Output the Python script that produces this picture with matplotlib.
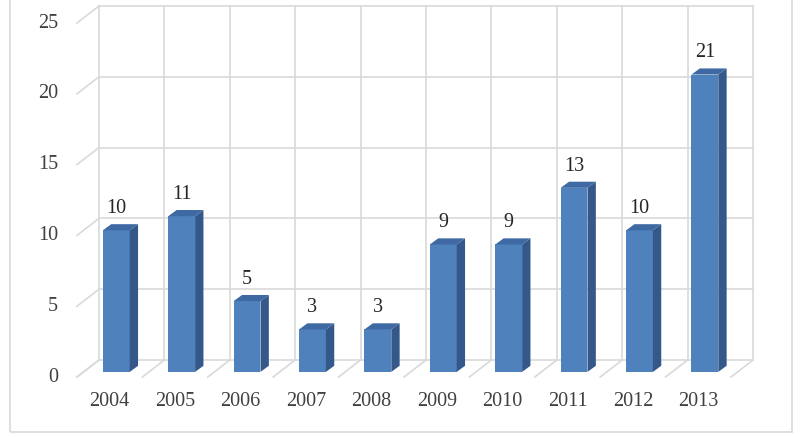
import numpy as np
import matplotlib.pyplot as plt
from matplotlib.patches import Rectangle

years = ['2004', '2005', '2006', '2007', '2008', '2009', '2010', '2011', '2012', '2013']
counts = [10, 11, 5, 3, 3, 9, 9, 13, 10, 21]
yticks = [0, 5, 10, 15, 20, 25]

plt.rcParams['font.family'] = ['Liberation Serif', 'DejaVu Serif']

fig = plt.figure(figsize=(8, 4.37), dpi=100)
ax = fig.add_axes([77 / 800, 60 / 437, 654 / 800, 354 / 437])
ax.set_xlim(-0.5, len(years) - 0.5)
ax.set_ylim(0, 25)
ax.axis('off')

# outer chart border
fig.patches.append(Rectangle((10 / 800, 5 / 437), 782 / 800, 440 / 437,
                             transform=fig.transFigure, fill=False,
                             edgecolor='#D9D9D9', linewidth=1.2))

grid_c = '#D9D9D9'
lw = 1.2
# depth of the box (data units)
ddx, ddy = 0.336, 1.2
n = len(years)
x_left, x_right = -0.5, n - 0.5

# back wall
for v in yticks:
    ax.plot([x_left + ddx, x_right + ddx], [v + ddy, v + ddy], color=grid_c, lw=lw, clip_on=False, zorder=1)
    ax.plot([x_left, x_left + ddx], [v, v + ddy], color=grid_c, lw=lw, clip_on=False, zorder=1)
for k in range(n + 1):
    xb = x_left + k + ddx
    ax.plot([xb, xb], [ddy, yticks[-1] + ddy], color=grid_c, lw=lw, clip_on=False, zorder=1)
    # floor
    ax.plot([x_left + k, xb], [0, ddy], color=grid_c, lw=lw, clip_on=False, zorder=1)

# bars
front = '#4F81BD'
side = '#34588A'
top = '#3E69A3'
w = 0.41
fx, fy = 0.3 * ddx, 0.3 * ddy      # front face offset inside the slot
bx, by = 0.38 * ddx, 0.36 * ddy    # bar depth
xs = np.arange(n) + fx
ax.bar(xs, counts, width=w, bottom=fy, color=front, zorder=3, clip_on=False)
for x, v in zip(xs, counts):
    x0, x1 = x - w / 2, x + w / 2
    ax.fill([x1, x1 + bx, x1 + bx, x1], [fy, fy + by, fy + by + v, fy + v],
            color=side, zorder=3, clip_on=False, lw=0)
    ax.fill([x0, x1, x1 + bx, x0 + bx], [fy + v, fy + v, fy + v + by, fy + v + by],
            color=top, zorder=3, clip_on=False, lw=0)
    ax.annotate(str(v), (x, fy + v + by), xytext=(0, 6), textcoords='offset pixels',
                ha='center', va='bottom', fontsize=14.5, color='#262626')

# tick labels
for v in yticks:
    ax.annotate(str(v), (x_left, v), xytext=(-19, 0), textcoords='offset pixels',
                ha='right', va='center', fontsize=14.5, color='#404040')
for i, yr in enumerate(years):
    ax.annotate(yr, (i, 0), xytext=(0, -25), textcoords='offset pixels',
                ha='center', va='center', fontsize=14.5, color='#404040')

plt.savefig('out.png', dpi=100)
